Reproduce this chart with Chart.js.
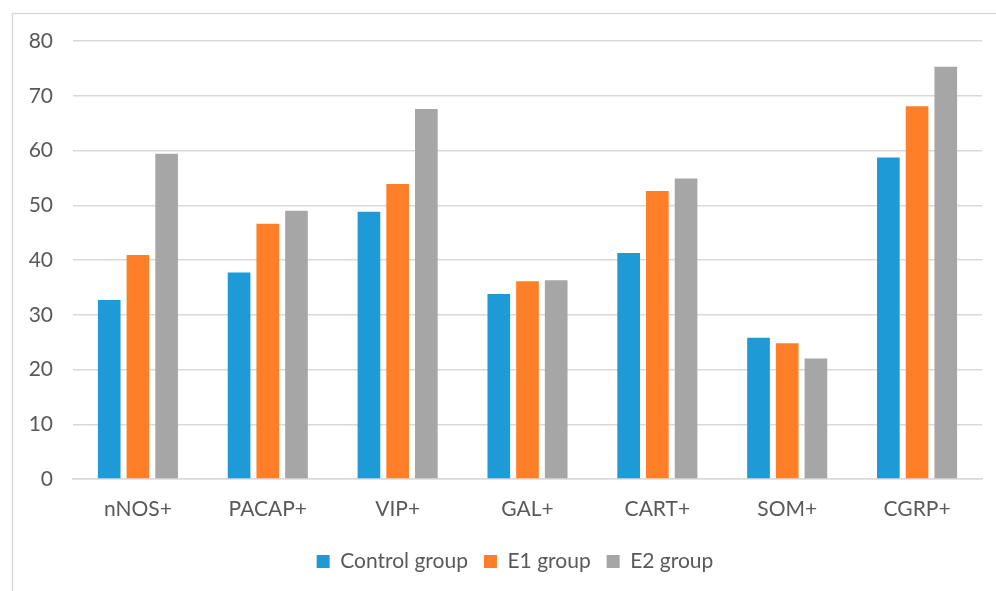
<!DOCTYPE html>
<html>
<head>
<meta charset="utf-8">
<script src="https://cdn.jsdelivr.net/npm/chart.js@4/dist/chart.umd.min.js"></script>
<style>
  html, body { margin: 0; padding: 0; background: #ffffff; }
  #wrap { position: relative; width: 996px; height: 591px; }
</style>
</head>
<body>
<div id="wrap"><canvas id="chart" width="996" height="591"></canvas></div>
<script>
// Marker categories
const categories = ['nNOS+', 'PACAP+', 'VIP+', 'GAL+', 'CART+', 'SOM+', 'CGRP+'];

// Series values per group
const controlGroup = [32.7, 37.7, 48.8, 33.8, 41.3, 25.8, 58.7];
const e1Group      = [40.9, 46.6, 53.9, 36.1, 52.6, 24.8, 68.1];
const e2Group      = [59.4, 49.0, 67.6, 36.3, 54.9, 22.0, 75.3];

// Value axis ticks
const yTicks = [0, 10, 20, 30, 40, 50, 60, 70, 80];

const seriesNames = ['Control group', 'E1 group', 'E2 group'];
const seriesColors = ['#1e9bd7', '#fe7f27', '#a6a6a6'];

const textColor = '#595959';
const gridColor = '#d9d9d9';
const fontFamily = 'Lato, "Open Sans", sans-serif';

// Light frame around the figure
const framePlugin = {
  id: 'frame',
  beforeDraw(chart) {
    const ctx = chart.ctx;
    ctx.save();
    ctx.fillStyle = '#ffffff';
    ctx.fillRect(0, 0, chart.width, chart.height);
    ctx.strokeStyle = gridColor;
    ctx.lineWidth = 1.5;
    ctx.strokeRect(12.5, 13.5, 1100, 1100);
    ctx.restore();
  }
};

// Nudge the legend a little to the right of the canvas center
const legendShiftPlugin = {
  id: 'legendShift',
  afterLayout(chart) {
    const lg = chart.legend;
    if (!lg) return;
    lg.left += 18;
    lg.right += 18;
  }
};

new Chart(document.getElementById('chart'), {
  type: 'bar',
  data: {
    labels: categories,
    datasets: [controlGroup, e1Group, e2Group].map((vals, i) => ({
      label: seriesNames[i],
      data: vals,
      backgroundColor: seriesColors[i],
      borderWidth: 0,
      categoryPercentage: 0.663,
      barPercentage: 0.79
    }))
  },
  options: {
    responsive: false,
    animation: false,
    layout: { padding: { left: 12, right: 14, top: 41, bottom: 9 } },
    plugins: {
      tooltip: { enabled: false },
      legend: {
        position: 'bottom',
        labels: {
          color: textColor,
          font: { family: fontFamily, size: 21 },
          boxWidth: 13,
          boxHeight: 13,
          padding: 16
        }
      }
    },
    scales: {
      x: {
        grid: { display: false, drawTicks: false },
        border: { display: true, color: gridColor, width: 1.5 },
        ticks: {
          color: textColor,
          font: { family: fontFamily, size: 21 },
          padding: 18
        },
        afterFit(scale) { scale.height = 56; }
      },
      y: {
        min: 0,
        max: 80,
        afterBuildTicks(scale) { scale.ticks = yTicks.map(v => ({ value: v })); },
        grid: { color: gridColor, lineWidth: 1.5, drawTicks: false },
        border: { display: false },
        ticks: {
          color: textColor,
          font: { family: fontFamily, size: 21 },
          padding: 20
        },
        afterFit(scale) { scale.width = 61; }
      }
    }
  },
  plugins: [framePlugin, legendShiftPlugin]
});
</script>
</body>
</html>
